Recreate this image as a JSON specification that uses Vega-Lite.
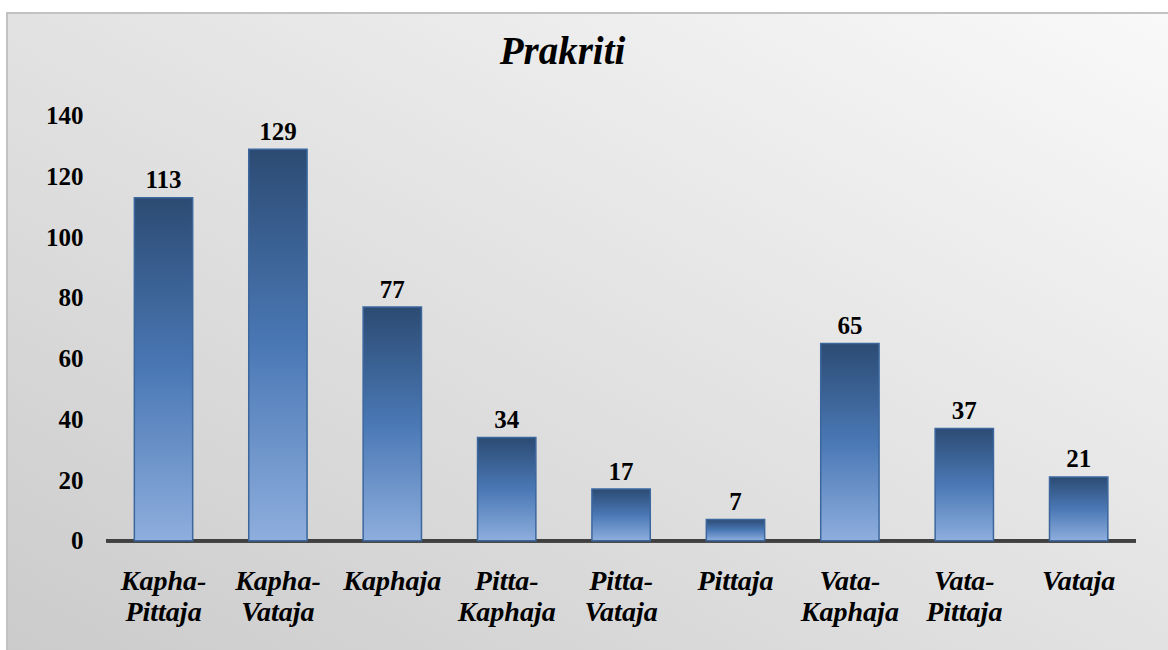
{
  "$schema": "https://vega.github.io/schema/vega-lite/v6.json",
  "width": 1165,
  "height": 641,
  "autosize": {"type": "none"},
  "padding": {"left": 7, "top": 13, "right": 0, "bottom": 0},
  "background": "white",
  "view": {
    "fill": {"gradient": "linear", "x1": 1, "y1": 0, "x2": 0, "y2": 1,
      "stops": [{"offset": 0, "color": "#f9f9f9"}, {"offset": 1, "color": "#cbcbcb"}]},
    "stroke": "#c2c2c2",
    "strokeWidth": 2
  },
  "title": {
    "text": "Prakriti",
    "font": "Liberation Serif",
    "fontSize": 39,
    "fontWeight": "bold",
    "fontStyle": "italic",
    "color": "#000000",
    "anchor": "middle",
    "frame": "group",
    "orient": "top",
    "baseline": "alphabetic",
    "offset": -50,
    "dy": 40,
    "dx": -27
  },
  "data": {
    "values": [
      {"prakriti": "Kapha-Pittaja", "count": 113},
      {"prakriti": "Kapha-Vataja", "count": 129},
      {"prakriti": "Kaphaja", "count": 77},
      {"prakriti": "Pitta-Kaphaja", "count": 34},
      {"prakriti": "Pitta-Vataja", "count": 17},
      {"prakriti": "Pittaja", "count": 7},
      {"prakriti": "Vata-Kaphaja", "count": 65},
      {"prakriti": "Vata-Pittaja", "count": 37},
      {"prakriti": "Vataja", "count": 21}
    ]
  },
  "layer": [
    {
      "mark": {"type": "rule", "color": "#404040", "strokeWidth": 3},
      "encoding": {
        "x": {"datum": "Kapha-Pittaja", "type": "nominal", "bandPosition": -0.48, "title": null},
        "x2": {"datum": "Vataja", "bandPosition": 1.48},
        "y": {"datum": 0, "type": "quantitative", "title": null}
      }
    },
    {
      "mark": {
        "type": "bar",
        "fill": {"gradient": "linear", "x1": 0, "y1": 0, "x2": 0, "y2": 1,
          "stops": [
            {"offset": 0, "color": "#2c4b73"},
            {"offset": 0.5, "color": "#4a78b5"},
            {"offset": 1, "color": "#8eaedd"}
          ]},
        "stroke": "#3b679e",
        "strokeWidth": 1.5
      },
      "encoding": {
        "x": {
          "field": "prakriti",
          "type": "nominal",
          "sort": null,
          "title": null,
          "scale": {
            "domain": ["Kapha-Pittaja", "Kapha-Vataja", "Kaphaja", "Pitta-Kaphaja", "Pitta-Vataja", "Pittaja", "Vata-Kaphaja", "Vata-Pittaja", "Vataja"],
            "paddingInner": 0.49,
            "paddingOuter": 0.837,
            "align": 0.665
          },
          "axis": {
            "title": null,
            "domain": false,
            "ticks": false,
            "grid": false,
            "labelAngle": 0,
            "labelAlign": "center",
            "offset": -113.3,
            "labelPadding": 48.5,
            "labelBaseline": "alphabetic",
            "labelFont": "Liberation Serif",
            "labelFontSize": 28,
            "labelFontWeight": "bold",
            "labelFontStyle": "italic",
            "labelColor": "#000000",
            "labelLineHeight": 31,
            "labelLimit": 0,
            "labelOverlap": false,
            "labelFlush": false,
            "labelExpr": "indexof(datum.label, '-') > 0 ? [slice(datum.label, 0, indexof(datum.label, '-') + 1), slice(datum.label, indexof(datum.label, '-') + 1)] : datum.label"
          }
        },
        "y": {
          "field": "count",
          "type": "quantitative",
          "title": null,
          "scale": {"domain": [-37.33, 173.87], "nice": false, "zero": false},
          "axis": {
            "title": null,
            "domain": false,
            "ticks": false,
            "grid": false,
            "values": [0, 20, 40, 60, 80, 100, 120, 140],
            "offset": -76,
            "labelPadding": 0,
            "labelFont": "Liberation Serif",
            "labelFontSize": 25,
            "labelFontWeight": "bold",
            "labelColor": "#000000",
            "labelFlush": false,
            "labelOverlap": false
          }
        }
      }
    },
    {
      "mark": {
        "type": "text",
        "baseline": "alphabetic",
        "align": "center",
        "dy": -9.5,
        "font": "Liberation Serif",
        "fontSize": 25,
        "fontWeight": "bold",
        "color": "#000000"
      },
      "encoding": {
        "x": {"field": "prakriti", "type": "nominal", "sort": null, "title": null},
        "y": {"field": "count", "type": "quantitative", "title": null},
        "text": {"field": "count", "type": "quantitative"}
      }
    }
  ]
}
